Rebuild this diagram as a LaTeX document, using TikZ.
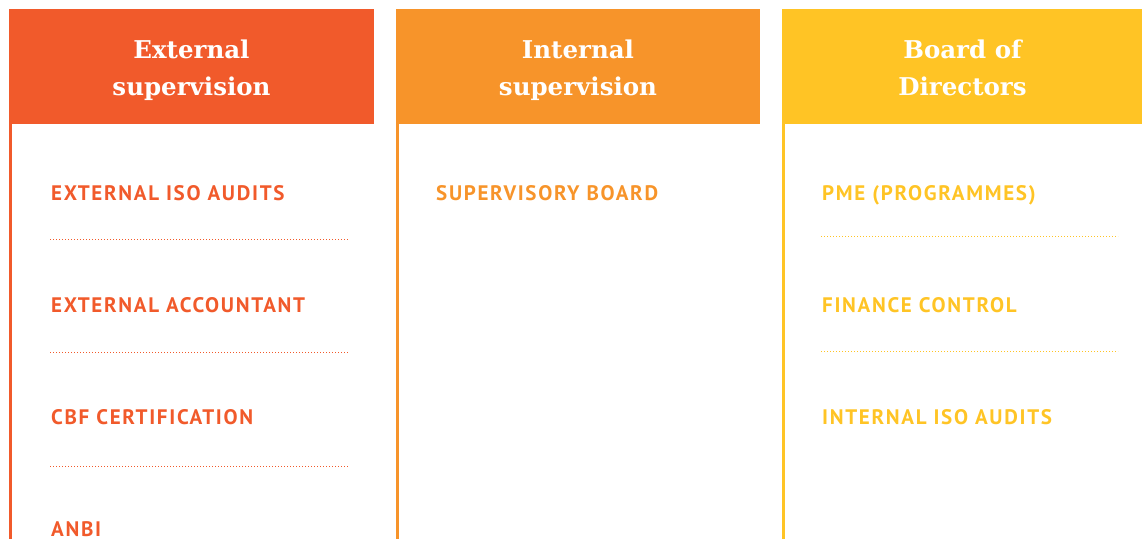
\documentclass[tikz,border=0pt]{standalone}
\usepackage{fontspec}
\newfontfamily\hdrfont{DejaVu Serif}
\newfontfamily\itmfont[LetterSpace=8]{PT Sans}
\definecolor{cRed}{HTML}{F15A2B}
\definecolor{cOrange}{HTML}{F7942A}
\definecolor{cYellow}{HTML}{FFC425}
\tikzset{
  hdr/.style={text=white, font=\hdrfont\bfseries\fontsize{24.5}{28}\selectfont, anchor=base, inner sep=0pt},
  itm/.style={font=\itmfont\bfseries\fontsize{21}{24}\selectfont, anchor=base west, inner sep=0pt},
  sep/.style={line width=1pt, dash pattern=on 1pt off 2pt},
}
\begin{document}
\begin{tikzpicture}[x=1pt,y=-1pt]
\useasboundingbox (0,0) rectangle (1142,539);
\begin{scope}
\clip (0,0) rectangle (1142,539);
% column 1
\fill[cRed] (9,9) rectangle (374,124);
\fill[cRed] (9,124) rectangle (12,539);
\node[hdr] (h1a) at (191.5,58) {External};
\node[hdr] (h1b) at (191.5,95) {supervision};
\node[itm, text=cRed] (i11) at (51,200) {EXTERNAL ISO AUDITS};
\coordinate (d11a) at (50,239); \coordinate (d11b) at (348,239);
\draw[sep, cRed] (d11a) -- (d11b);
\node[itm, text=cRed] (i12) at (51,312) {EXTERNAL ACCOUNTANT};
\coordinate (d12a) at (50,352); \coordinate (d12b) at (348,352);
\draw[sep, cRed] (d12a) -- (d12b);
\node[itm, text=cRed] (i13) at (51,424) {CBF CERTIFICATION};
\coordinate (d13a) at (50,466); \coordinate (d13b) at (348,466);
\draw[sep, cRed] (d13a) -- (d13b);
\node[itm, text=cRed] (i14) at (51,536) {ANBI};
% column 2
\fill[cOrange] (396,9) rectangle (760,124);
\fill[cOrange] (396,124) rectangle (399,539);
\node[hdr] (h2a) at (578,58) {Internal};
\node[hdr] (h2b) at (578,95) {supervision};
\node[itm, text=cOrange] (i21) at (436,200) {SUPERVISORY BOARD};
% column 3
\fill[cYellow] (782,9) rectangle (1150,124);
\fill[cYellow] (782,124) rectangle (785,539);
\node[hdr] (h3a) at (962.5,58) {Board of};
\node[hdr] (h3b) at (962.5,95) {Directors};
\node[itm, text=cYellow] (i31) at (822,200) {PME (PROGRAMMES)};
\coordinate (d31a) at (821,236); \coordinate (d31b) at (1118,236);
\draw[sep, cYellow] (d31a) -- (d31b);
\node[itm, text=cYellow] (i32) at (822,312) {FINANCE CONTROL};
\coordinate (d32a) at (821,351); \coordinate (d32b) at (1118,351);
\draw[sep, cYellow] (d32a) -- (d32b);
\node[itm, text=cYellow] (i33) at (822,424) {INTERNAL ISO AUDITS};
\end{scope}
\end{tikzpicture}
\end{document}
